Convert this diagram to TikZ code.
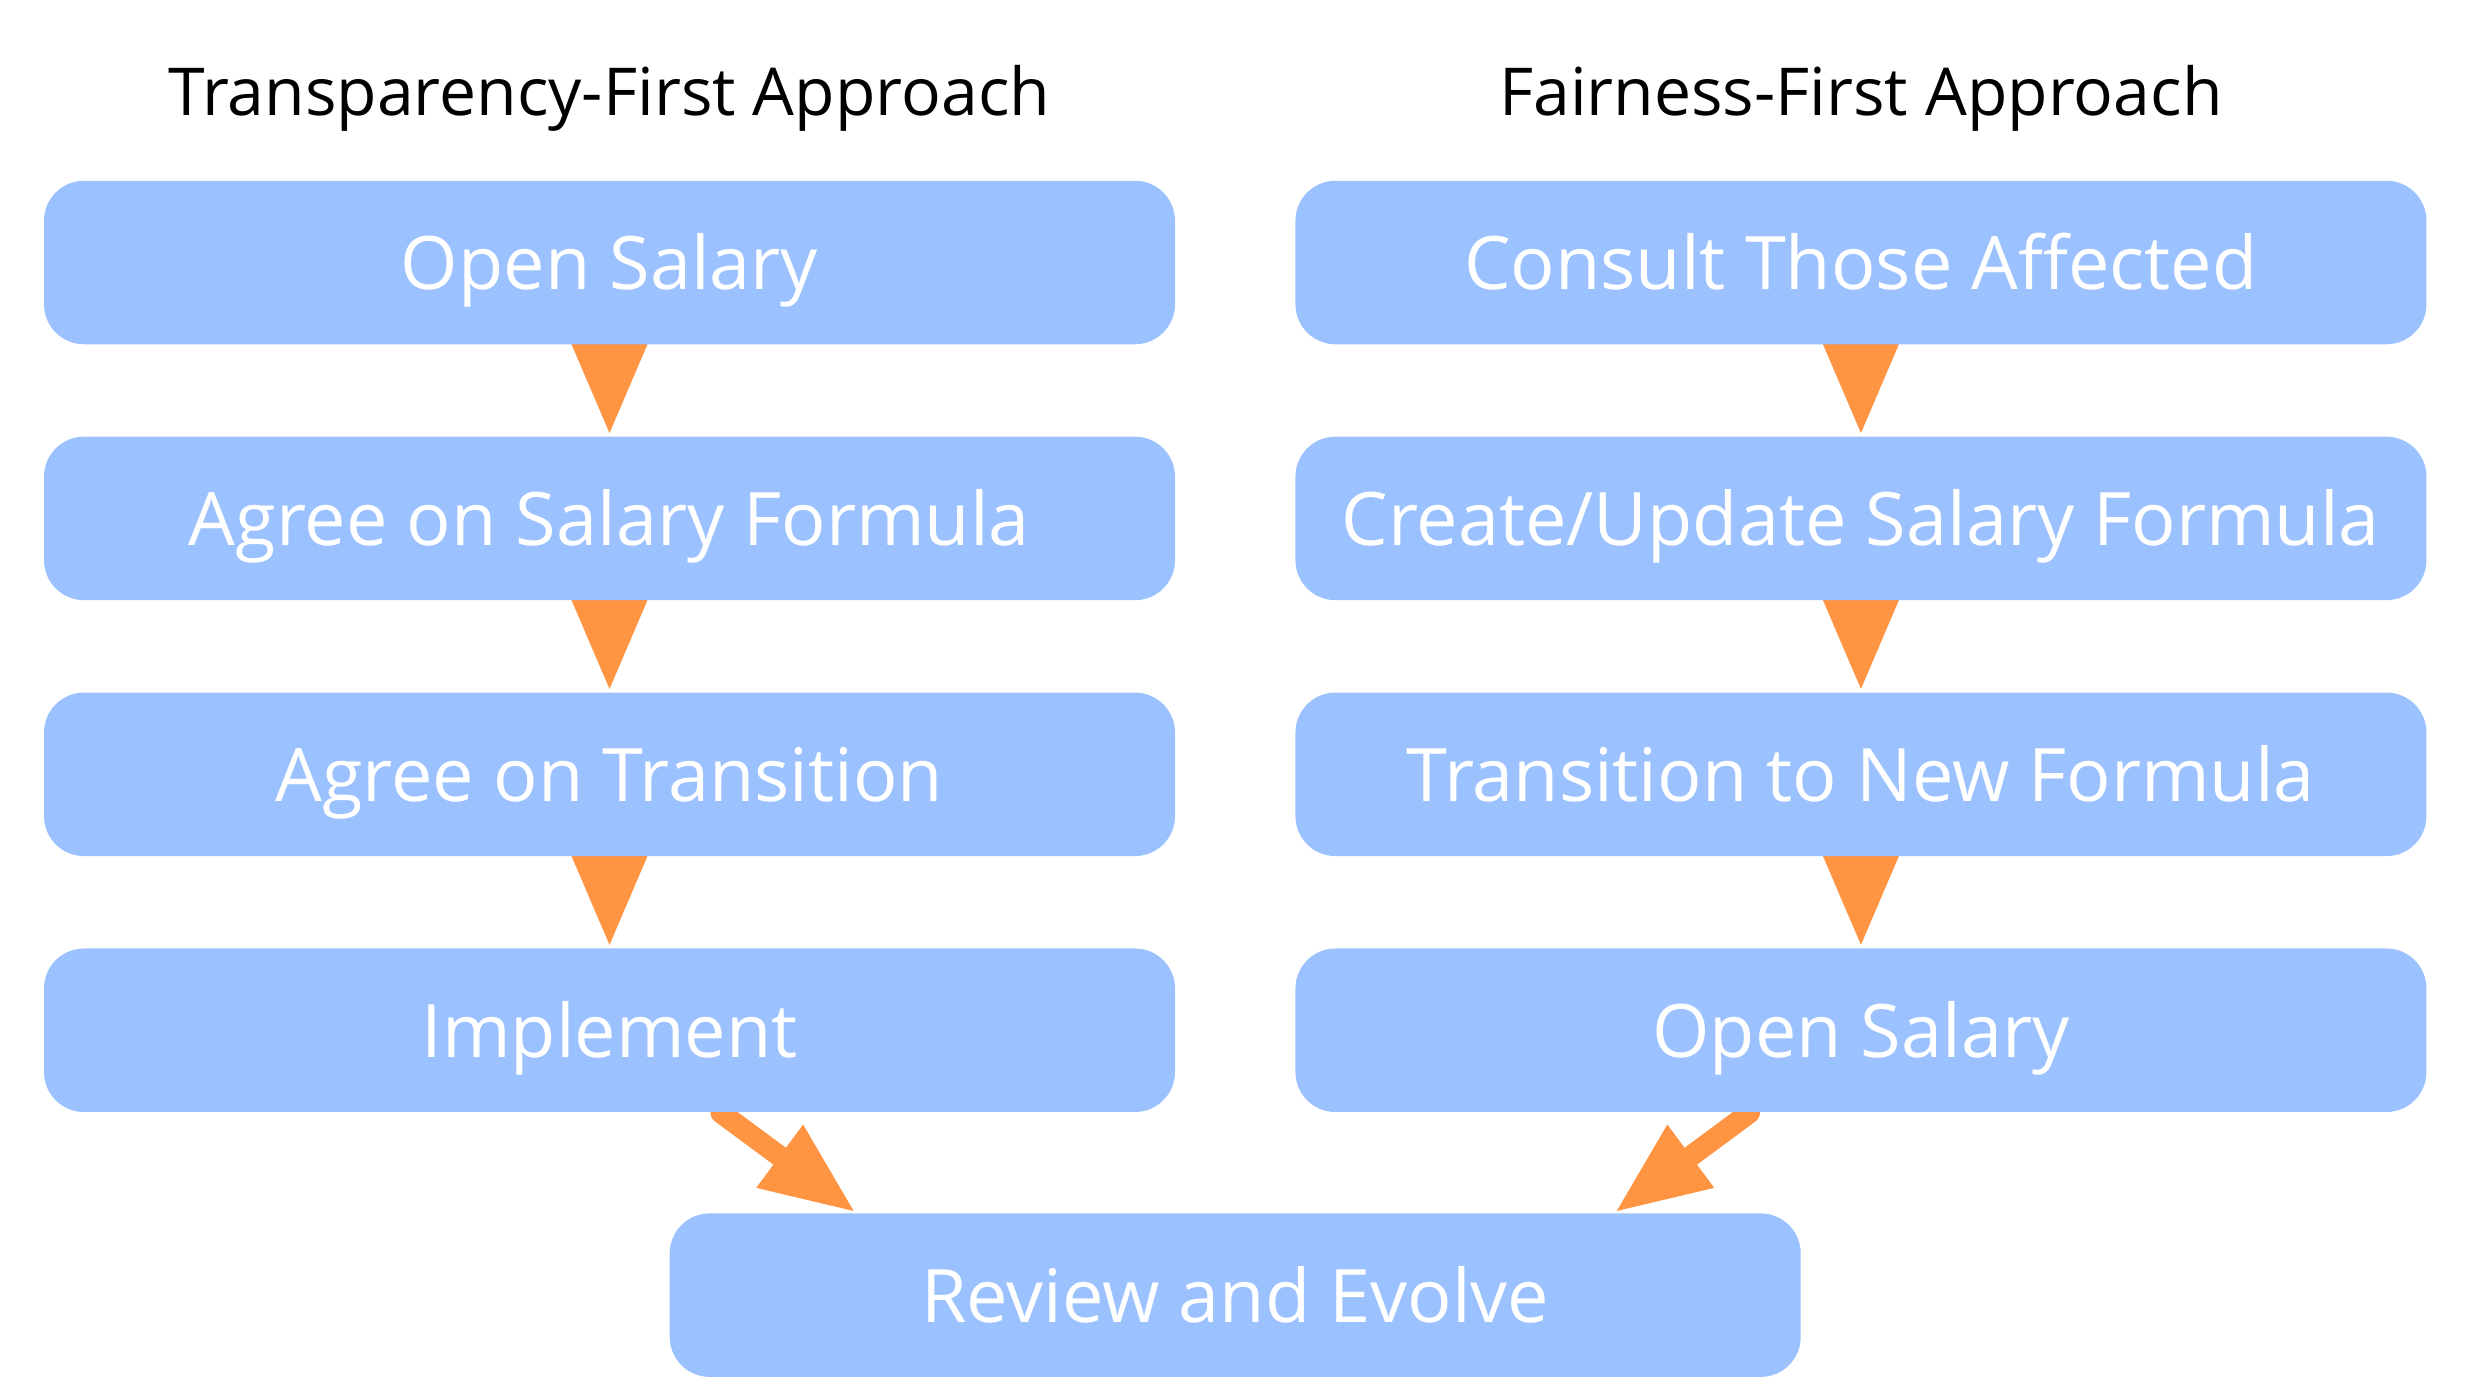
\documentclass[tikz,border=0pt]{standalone}
\usepackage{fontspec}
\setmainfont{Open Sans}
\usepackage{tikz}
\usetikzlibrary{positioning,arrows.meta,backgrounds,calc}
\definecolor{boxblue}{RGB}{155,193,255}
\definecolor{flowamber}{RGB}{255,148,66}
\tikzset{
  stepbox/.style ={rectangle, rounded corners=0.4cm, fill=boxblue, text=white,
                   minimum width=11.31cm, minimum height=1.635cm,
                   text height=0.54cm, text depth=0pt, inner sep=0pt,
                   font=\fontsize{21pt}{26pt}\selectfont},
  colhead/.style ={anchor=base, font=\fontsize{18.8pt}{23pt}\selectfont},
  flow/.style    ={-{Triangle[length=0.95cm,width=0.72cm]}, line width=0.21cm,
                   line cap=round, draw=flowamber},
}
\begin{document}
\begin{tikzpicture}[node distance=0.91cm and 1.19cm]
\useasboundingbox (0,0) rectangle (24.69,-13.99);
% left column
\node[stepbox] (openl) at (6.095,-2.625) {Open Salary};
\node[stepbox, below=of openl] (formula) {Agree on Salary Formula};
\node[stepbox, below=of formula] (trans) {Agree on Transition};
\node[stepbox, below=of trans] (impl) {Implement};
% right column
\node[stepbox, right=of openl] (consult) {Consult Those Affected};
\node[stepbox, below=of consult] (update) {Create/Update Salary Formula};
\node[stepbox, below=of update] (newf) {Transition to New Formula};
\node[stepbox, below=of newf] (openr) {Open Salary};

\node[colhead] (headl) at ($(openl.north)+(0,0.65)$) {Transparency-First Approach};
\node[colhead] (headr) at ($(consult.north)+(0,0.65)$) {Fairness-First Approach};

% both paths end here
\path (impl.south) -- coordinate[midway] (mid) (openr.south);
\node[stepbox, below=1.0cm of mid, anchor=north] (review) {Review and Evolve};
\coordinate (tipl) at ($(review.north west)+(1.87,0)$);
\coordinate (tipr) at ($(review.north east)+(-1.87,0)$);

\begin{scope}[on background layer]
  \foreach \x/\y in {openl/formula,formula/trans,trans/impl,consult/update,update/newf,newf/openr}
    \draw[flow] (\x) -- (\y);
  \draw[flow] (impl) -- (tipl);
  \draw[flow] (openr) -- (tipr);
\end{scope}
\end{tikzpicture}
\end{document}
